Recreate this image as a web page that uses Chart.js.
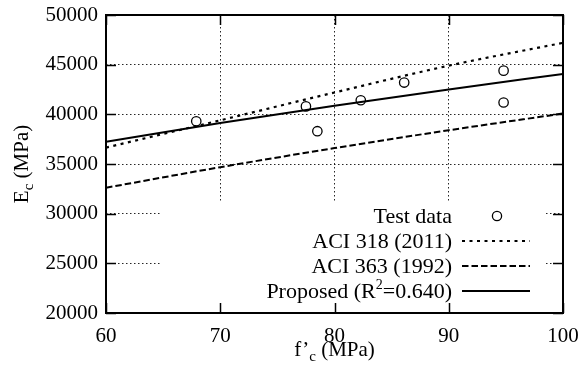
<!DOCTYPE html>
<html>
<head>
<meta charset="utf-8">
<script src="https://cdn.jsdelivr.net/npm/chart.js@4.4.1/dist/chart.umd.min.js"></script>
<style>
    html, body { margin: 0; padding: 0; background: #fff; }
</style>
</head>
<body>
<canvas id="chart_ec" width="579" height="375"></canvas>
<script>
// Test data (f'c in MPa, Ec in MPa)
const testFc = [67.9, 77.5, 78.5, 82.3, 86.1, 94.8, 94.8];
const testEc = [39300, 40800, 38300, 41420, 43200, 44400, 41190];

// Model curves, read at these strengths
const curveFc = [60, 70, 80, 90, 100];
const aci318 = [36650, 39400, 42200, 44900, 47200];
const aci363 = [32610, 34680, 36600, 38400, 40080];
const proposed = [37230, 39120, 40870, 42510, 44070];

const xTicks = [60, 70, 80, 90, 100];
const yTicks = [20000, 25000, 30000, 35000, 40000, 45000, 50000];

const serif = "'Liberation Serif', 'Times New Roman', serif";

function toPoints(xs, ys) {
    return xs.map((x, i) => ({ x: x, y: ys[i] }));
}

// draw text made of pieces (for sub/superscripts)
function drawParts(ctx, parts, x, y, align) {
    let total = 0;
    parts.forEach(p => {
        ctx.font = p.size + 'px ' + serif;
        p.w = ctx.measureText(p.text).width;
        total += p.w;
    });
    let cx = x;
    if (align === 'right') cx = x - total;
    if (align === 'center') cx = x - total / 2;
    ctx.textAlign = 'left';
    ctx.textBaseline = 'alphabetic';
    parts.forEach(p => {
        ctx.font = p.size + 'px ' + serif;
        ctx.fillText(p.text, cx, y + (p.dy || 0));
        cx += p.w;
    });
}

const keyItems = [
    { parts: [{ text: 'Test data', size: 22 }], kind: 'point' },
    { parts: [{ text: 'ACI 318 (2011)', size: 22 }], kind: 'line', dash: [3, 4.5], width: 2.2 },
    { parts: [{ text: 'ACI 363 (1992)', size: 22 }], kind: 'line', dash: [6.5, 3], width: 2 },
    { parts: [{ text: 'Proposed (R', size: 22 }, { text: '2', size: 14, dy: -9 }, { text: '=0.640)', size: 22 }], kind: 'line', dash: [], width: 2 }
];

const framePlugin = {
    id: 'gnuFrame',
    beforeDatasetsDraw(chart) {
        // opaque key box hides the grid behind it
        const ctx = chart.ctx;
        ctx.save();
        ctx.fillStyle = '#fff';
        ctx.fillRect(160, 202, 386, chart.chartArea.bottom - 202);
        ctx.restore();
    },
    afterDraw(chart) {
        const ctx = chart.ctx;
        const a = chart.chartArea;
        const xs = chart.scales.x;
        const ys = chart.scales.y;
        ctx.save();
        ctx.globalAlpha = 1;
        ctx.globalCompositeOperation = 'source-over';
        ctx.setLineDash([]);
        ctx.strokeStyle = '#000000';
        ctx.fillStyle = '#000000';

        // inward ticks on all sides
        ctx.lineWidth = 1.5;
        ctx.beginPath();
        xTicks.forEach(v => {
            const px = Math.round(xs.getPixelForValue(v)) + 0.5;
            ctx.moveTo(px, a.bottom);
            ctx.lineTo(px, a.bottom - 10);
            ctx.moveTo(px, a.top);
            ctx.lineTo(px, a.top + 10);
        });
        yTicks.forEach(v => {
            const py = Math.round(ys.getPixelForValue(v)) + 0.5;
            ctx.moveTo(a.left, py);
            ctx.lineTo(a.left + 10, py);
            ctx.moveTo(a.right, py);
            ctx.lineTo(a.right - 10, py);
        });
        ctx.stroke();

        // border
        ctx.lineWidth = 2;
        ctx.beginPath();
        ctx.rect(a.left, a.top, a.right - a.left, a.bottom - a.top);
        ctx.stroke();

        // key
        const textRight = 452;
        keyItems.forEach((item, i) => {
            const rowY = 216 + i * 25;
            drawParts(ctx, item.parts, textRight, rowY + 7, 'right');
            if (item.kind === 'point') {
                ctx.lineWidth = 1.3;
                ctx.setLineDash([]);
                ctx.beginPath();
                ctx.arc(497, rowY, 4.6, 0, Math.PI * 2);
                ctx.stroke();
            } else {
                ctx.lineWidth = item.width;
                ctx.setLineDash(item.dash);
                ctx.beginPath();
                ctx.moveTo(462, rowY);
                ctx.lineTo(530, rowY);
                ctx.stroke();
                ctx.setLineDash([]);
            }
        });

        // axis titles
        drawParts(ctx, [
            { text: 'f\u2019', size: 21 },
            { text: 'c', size: 15, dy: 5 },
            { text: ' (MPa)', size: 21 }
        ], (a.left + a.right) / 2, 356, 'center');

        ctx.translate(28, (a.top + a.bottom) / 2);
        ctx.rotate(-Math.PI / 2);
        drawParts(ctx, [
            { text: 'E', size: 21 },
            { text: 'c', size: 15, dy: 5 },
            { text: ' (MPa)', size: 21 }
        ], 0, 0, 'center');
        ctx.restore();
    }
};

const ctx = document.getElementById('chart_ec').getContext('2d');

new Chart(ctx, {
    type: 'scatter',
    data: {
        datasets: [
            {
                label: 'Test data',
                data: toPoints(testFc, testEc),
                borderColor: '#000',
                backgroundColor: 'rgba(0,0,0,0)',
                pointRadius: 4.7,
                borderWidth: 1.3,
                order: 1
            },
            {
                label: 'ACI 318 (2011)',
                data: toPoints(curveFc, aci318),
                showLine: true,
                borderColor: '#000',
                borderWidth: 2.2,
                borderDash: [3, 4.5],
                pointRadius: 0,
                cubicInterpolationMode: 'monotone',
                order: 2
            },
            {
                label: 'ACI 363 (1992)',
                data: toPoints(curveFc, aci363),
                showLine: true,
                borderColor: '#000',
                borderWidth: 2,
                borderDash: [6.5, 3],
                pointRadius: 0,
                cubicInterpolationMode: 'monotone',
                order: 3
            },
            {
                label: 'Proposed',
                data: toPoints(curveFc, proposed),
                showLine: true,
                borderColor: '#000',
                borderWidth: 2,
                pointRadius: 0,
                cubicInterpolationMode: 'monotone',
                order: 4
            }
        ]
    },
    plugins: [framePlugin],
    options: {
        responsive: false,
        animation: false,
        events: [],
        layout: { padding: { top: 15, right: 16, left: 0, bottom: 0 } },
        plugins: {
            legend: { display: false },
            tooltip: { enabled: false }
        },
        scales: {
            x: {
                type: 'linear',
                min: 60,
                max: 100,
                afterFit: scale => {
                    scale.height = 62;
                    scale.paddingLeft = 0;
                    scale.paddingRight = 0;
                },
                afterBuildTicks: scale => { scale.ticks = xTicks.map(v => ({ value: v })); },
                ticks: {
                    color: '#000',
                    font: { family: serif, size: 21 },
                    padding: 11,
                    maxRotation: 0,
                    callback: v => String(v)
                },
                grid: { color: 'rgba(0,0,0,0.85)', lineWidth: 1, drawTicks: false },
                border: { display: false, dash: [1.5, 2.5] }
            },
            y: {
                min: 20000,
                max: 50000,
                afterFit: scale => {
                    scale.width = 106;
                    scale.paddingTop = 0;
                    scale.paddingBottom = 0;
                },
                afterBuildTicks: scale => { scale.ticks = yTicks.map(v => ({ value: v })); },
                ticks: {
                    color: '#000',
                    font: { family: serif, size: 21 },
                    padding: 8,
                    callback: v => String(v)
                },
                grid: { color: 'rgba(0,0,0,0.85)', lineWidth: 1, drawTicks: false },
                border: { display: false, dash: [1.5, 2.5] }
            }
        }
    }
});
</script>
</body>
</html>
